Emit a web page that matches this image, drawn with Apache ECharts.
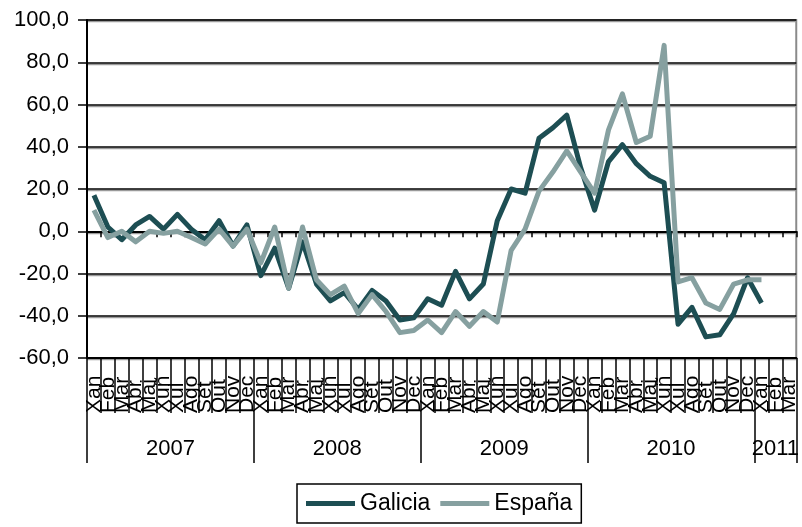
<!DOCTYPE html>
<html>
<head>
<meta charset="utf-8">
<script src="https://cdn.jsdelivr.net/npm/echarts@6/dist/echarts.min.js"></script>
<style>
	html, body { margin: 0; padding: 0; background: #fff; }
	#chart { width: 802px; height: 527px; }
</style>
</head>
<body>
<div id="chart"></div>
<script>
let months = ['Xan', 'Feb', 'Mar', 'Abr', 'Mai', 'Xuñ', 'Xul', 'Ago', 'Set', 'Out', 'Nov', 'Dec'];
let years = ['2007', '2008', '2009', '2010', '2011'];
let monthsPerYear = [12, 12, 12, 12, 3];

let galicia = [
	17, 2, -4, 3, 7, 1, 8, 1, -4, 5, -7, 3,
	-21, -8, -27, -5, -25, -33, -29, -37, -28, -33, -42, -41,
	-32, -35, -19, -32, -25, 5, 20, 18, 44, 49, 55, 30,
	10, 33, 41, 32, 26, 23, -44, -36, -50, -49, -39, -22,
	-34, null, null
];
let espana = [
	10, -3, 0, -5, 0, -1, 0, -3, -6, 1, -7, 1,
	-15, 2, -27, 2, -23, -30, -26, -39, -30, -38, -48, -47,
	-42, -48, -38, -45, -38, -43, -9, 1, 19, 28, 38, 28,
	18, 48, 65, 42, 45, 88, -24, -22, -34, -37, -25, -23,
	-23, null, null
];

// categories: one per month, year of each month kept alongside
let categories = [];
let yearOf = [];
years.forEach(function(y, i) {
	for (let m = 0; m < monthsPerYear[i]; m++) {
		categories.push(months[m]);
		yearOf.push(i);
	}
});

// index of the first month of each year
let yearStart = [];
let acc = 0;
monthsPerYear.forEach(function(n) { yearStart.push(acc); acc += n; });

let font = 'Arial, "Liberation Sans", sans-serif';
let myChart = echarts.init(document.getElementById('chart'));

let option = {
	animation: false,
	grid: {
		left: 87,
		right: 1,
		top: 20,
		bottom: 169,
		show: true,
		borderColor: '#8a8a8a',
		borderWidth: 2
	},
	legend: {
		left: 297,
		top: 484,
		padding: [8, 9, 8, 9],
		borderColor: '#000',
		borderWidth: 1.5,
		itemWidth: 49,
		itemHeight: 5,
		itemGap: 10,
		icon: 'rect',
		textStyle: { fontFamily: font, fontSize: 23, color: '#000' },
		data: ['Galicia', 'España']
	},
	xAxis: [
		{
			// month labels + separators
			type: 'category',
			data: categories,
			position: 'bottom',
			boundaryGap: true,
			axisLine: { onZero: false, lineStyle: { color: '#000', width: 2 } },
			axisTick: { show: true, interval: 0, length: 55, lineStyle: { color: '#000', width: 1.5 } },
			axisLabel: {
				interval: 0,
				rotate: 90,
				align: 'left',
				verticalAlign: 'middle',
				margin: 55,
				fontFamily: font,
				fontSize: 21,
				color: '#000'
			}
		},
		{
			// year labels + separators
			type: 'category',
			data: categories,
			position: 'bottom',
			boundaryGap: true,
			axisLine: { show: false, onZero: false },
			axisTick: {
				show: true,
				length: 105,
				interval: function(index) { return yearStart.indexOf(index) >= 0; },
				lineStyle: { color: '#000', width: 1.5 }
			},
			axisLabel: {
				margin: 80,
				fontFamily: font,
				fontSize: 22,
				color: '#000',
				interval: function(index) {
					let y = yearOf[index];
					return index === yearStart[y] + Math.floor(monthsPerYear[y] / 2);
				},
				formatter: function(value, index) {
					let y = yearOf[index];
					if (monthsPerYear[y] % 2 === 0)
						return '{s|' + years[y] + '}';
					return years[y];
				},
				rich: {
					s: { fontFamily: font, fontSize: 22, color: '#000', padding: [0, 14, 0, 0] }
				}
			},
			splitLine: { show: false }
		},
		{
			// axis line crossing at zero
			type: 'category',
			data: categories,
			position: 'bottom',
			boundaryGap: true,
			axisLine: { show: true, onZero: true, lineStyle: { color: '#000', width: 2 } },
			axisTick: { show: true, interval: 0, length: 6, lineStyle: { color: '#000', width: 1.5 } },
			axisLabel: { show: false },
			splitLine: { show: false }
		}
	],
	yAxis: {
		type: 'value',
		min: -60,
		max: 100,
		interval: 20,
		axisLine: { show: true, lineStyle: { color: '#000', width: 2 } },
		axisTick: { show: true, length: 9, lineStyle: { color: '#000', width: 1.5 } },
		axisLabel: {
			margin: 18,
			fontFamily: font,
			fontSize: 22,
			color: '#000',
			formatter: function(v) { return v.toFixed(1).replace('.', ','); }
		},
		splitLine: {
			show: true,
			lineStyle: { color: '#000', width: 1.5, shadowColor: '#9a9a9a', shadowOffsetY: 1.5, shadowBlur: 0 }
		}
	},
	series: [
		{
			name: 'Galicia',
			type: 'line',
			xAxisIndex: 0,
			data: galicia,
			showSymbol: false,
			symbol: 'none',
			color: '#1d4e53',
			lineStyle: { width: 5, color: '#1d4e53', join: 'round' }
		},
		{
			name: 'España',
			type: 'line',
			xAxisIndex: 0,
			data: espana,
			showSymbol: false,
			symbol: 'none',
			color: '#86a0a0',
			lineStyle: { width: 5, color: '#86a0a0', join: 'round' }
		}
	]
};
option && myChart.setOption(option);
</script>
</body>
</html>
